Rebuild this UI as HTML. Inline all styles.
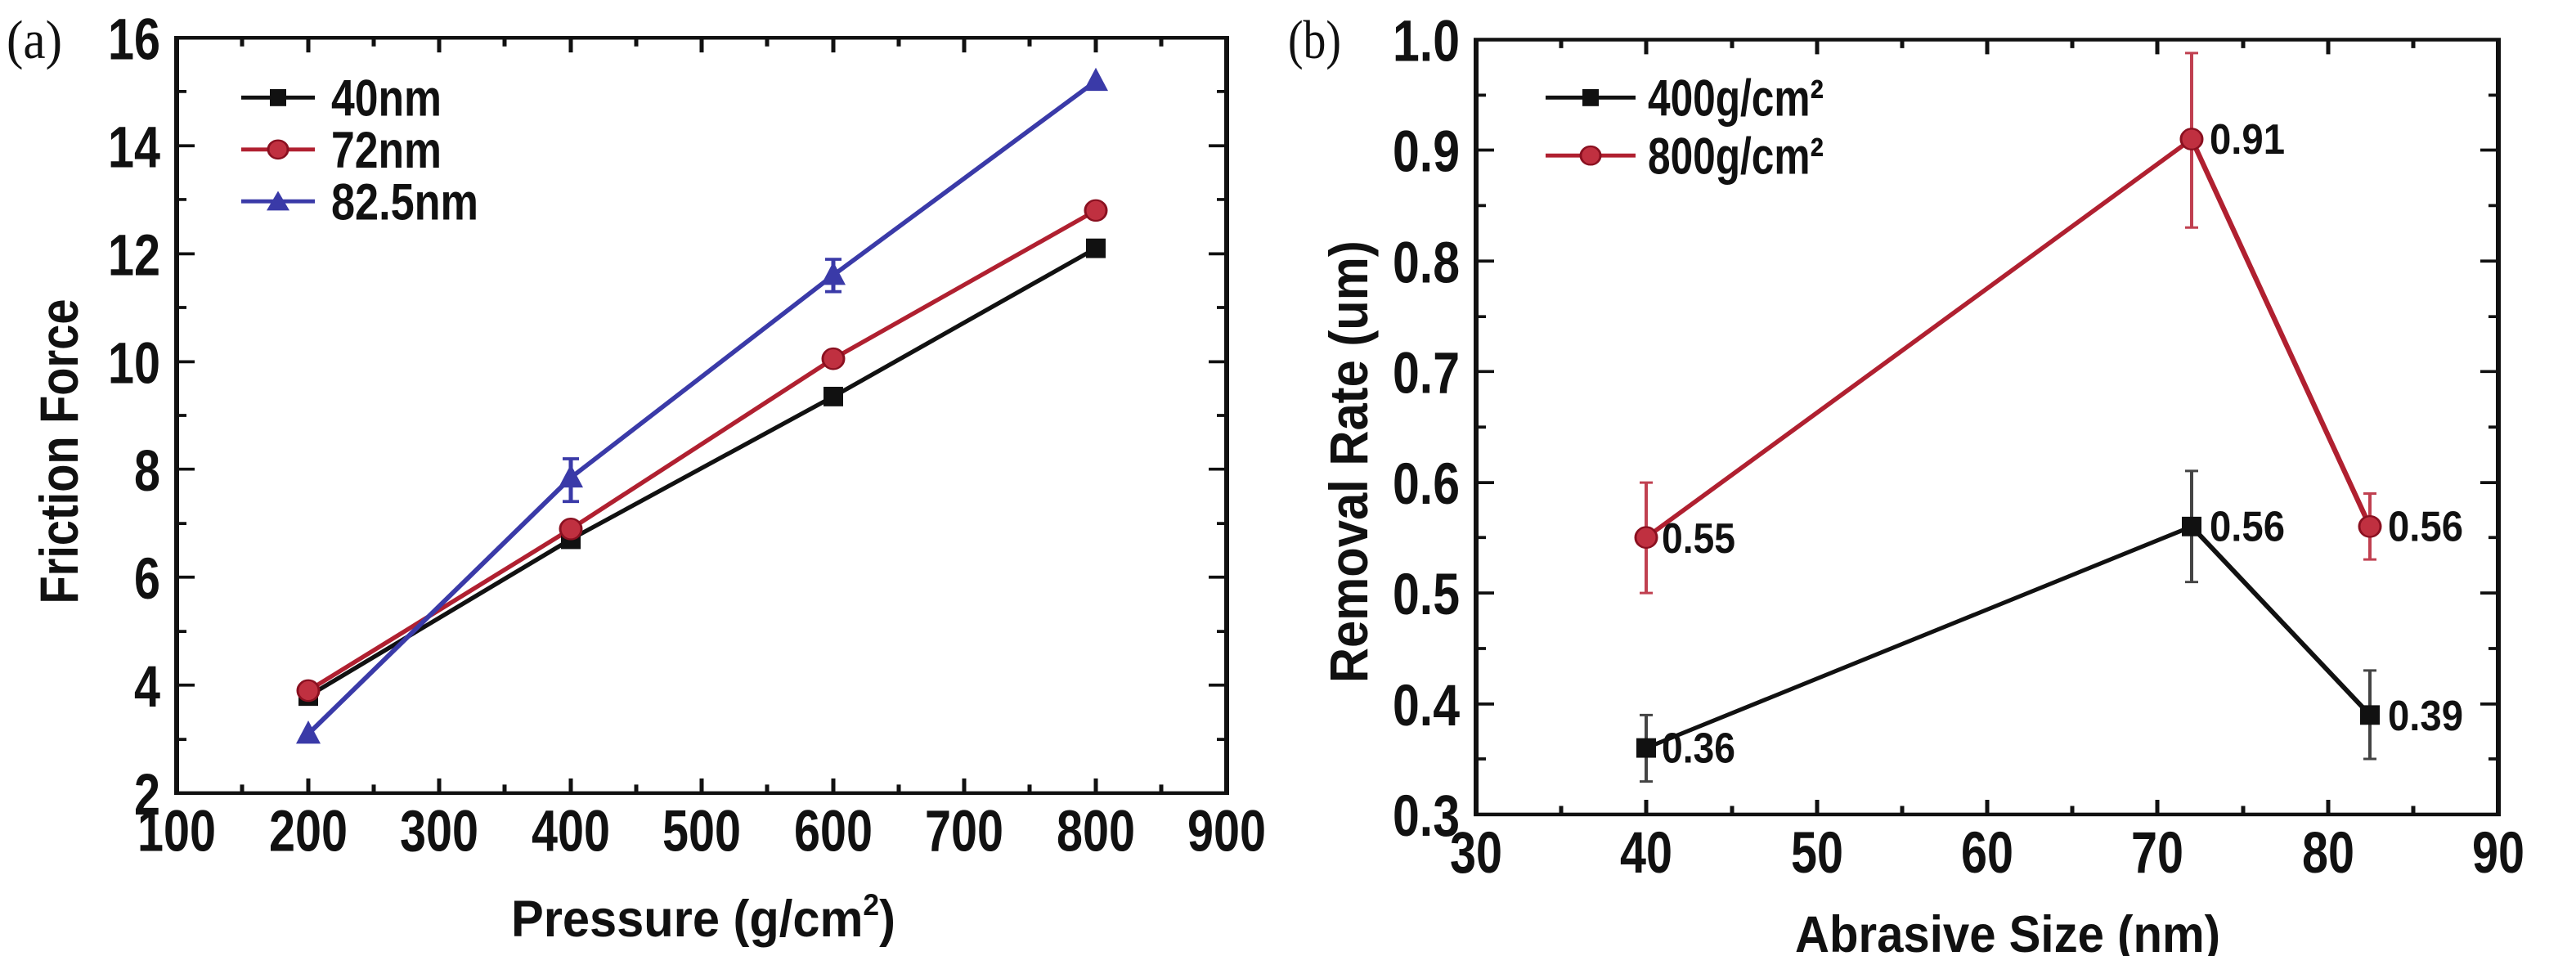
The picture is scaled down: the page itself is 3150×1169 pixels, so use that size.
<!DOCTYPE html>
<html><head><meta charset="utf-8"><style>
html,body{margin:0;padding:0;background:#fff;}
svg{display:block;}
text{font-family:"Liberation Sans",Arial,sans-serif;font-weight:bold;fill:#111;}
</style></head><body>
<svg width="3150" height="1169" viewBox="0 0 3150 1567" preserveAspectRatio="none" xmlns="http://www.w3.org/2000/svg">
<rect width="3150" height="1567" fill="#fff"/>
<text x="8" y="95" style="font-family:'Liberation Serif',serif;font-weight:normal" font-size="90" textLength="68" lengthAdjust="spacingAndGlyphs">(a)</text>
<rect x="216" y="62" width="1284" height="1238" fill="none" stroke="#111" stroke-width="6"/>
<g stroke="#111" stroke-width="5" fill="none">
<path d="M216 1300v-24M377 1300v-24M537 1300v-24M698 1300v-24M858 1300v-24M1019 1300v-24M1179 1300v-24M1340 1300v-24M1500 1300v-24
M296 1300v-14M457 1300v-14M617 1300v-14M778 1300v-14M938 1300v-14M1099 1300v-14M1259 1300v-14M1420 1300v-14
M377 62v24M537 62v24M698 62v24M858 62v24M1019 62v24M1179 62v24M1340 62v24
M296 62v14M457 62v14M617 62v14M778 62v14M938 62v14M1099 62v14M1259 62v14M1420 62v14
M216 1123h22M216 946h22M216 769h22M216 593h22M216 416h22M216 239h22
M216 1212h12M216 1035h12M216 858h12M216 681h12M216 504h12M216 327h12M216 150h12
M1500 1123h-22M1500 946h-22M1500 769h-22M1500 593h-22M1500 416h-22M1500 239h-22
M1500 1212h-12M1500 1035h-12M1500 858h-12M1500 681h-12M1500 504h-12M1500 327h-12M1500 150h-12"/>
</g>
<g font-size="96" text-anchor="middle">
<text x="216" y="1395" textLength="96" lengthAdjust="spacingAndGlyphs">100</text>
<text x="377" y="1395" textLength="96" lengthAdjust="spacingAndGlyphs">200</text>
<text x="537" y="1395" textLength="96" lengthAdjust="spacingAndGlyphs">300</text>
<text x="698" y="1395" textLength="96" lengthAdjust="spacingAndGlyphs">400</text>
<text x="858" y="1395" textLength="96" lengthAdjust="spacingAndGlyphs">500</text>
<text x="1019" y="1395" textLength="96" lengthAdjust="spacingAndGlyphs">600</text>
<text x="1179" y="1395" textLength="96" lengthAdjust="spacingAndGlyphs">700</text>
<text x="1340" y="1395" textLength="96" lengthAdjust="spacingAndGlyphs">800</text>
<text x="1500" y="1395" textLength="96" lengthAdjust="spacingAndGlyphs">900</text>
</g>
<g font-size="96" text-anchor="end">
<text x="196" y="1335" textLength="32" lengthAdjust="spacingAndGlyphs">2</text>
<text x="196" y="1158" textLength="32" lengthAdjust="spacingAndGlyphs">4</text>
<text x="196" y="981" textLength="32" lengthAdjust="spacingAndGlyphs">6</text>
<text x="196" y="804" textLength="32" lengthAdjust="spacingAndGlyphs">8</text>
<text x="196" y="628" textLength="64" lengthAdjust="spacingAndGlyphs">10</text>
<text x="196" y="451" textLength="64" lengthAdjust="spacingAndGlyphs">12</text>
<text x="196" y="274" textLength="64" lengthAdjust="spacingAndGlyphs">14</text>
<text x="196" y="97" textLength="64" lengthAdjust="spacingAndGlyphs">16</text>
</g>
<text transform="translate(95,740) rotate(-90)" font-size="66" text-anchor="middle" textLength="500" lengthAdjust="spacingAndGlyphs">Friction Force</text>
<text x="860" y="1535" font-size="84" text-anchor="middle" textLength="470" lengthAdjust="spacingAndGlyphs">Pressure (g/cm<tspan font-size="50" dy="-35">2</tspan><tspan dy="35">)</tspan></text>
<g fill="none" stroke-width="6.5">
<polyline stroke="#111" points="377,1141 698,884 1019,650 1340,407"/>
<polyline stroke="#b02030" points="377,1132 698,867 1019,588 1340,345"/>
<polyline stroke="#3a3aa8" points="377,1203 698,783 1019,451 1340,133"/>
<path stroke="#3a3aa8" stroke-width="5" d="M698 822V752M688 752h20M688 822h20M1019 478V425M1009 425h20M1009 478h20"/>
</g>
<g fill="#111"><rect x="365" y="1125" width="24" height="32"/><rect x="686" y="868" width="24" height="32"/><rect x="1007" y="634" width="24" height="32"/><rect x="1328" y="391" width="24" height="32"/></g>
<g fill="#c03040" stroke="#8a1020" stroke-width="3"><ellipse cx="377" cy="1132" rx="13" ry="17"/><ellipse cx="698" cy="867" rx="13" ry="17"/><ellipse cx="1019" cy="588" rx="13" ry="17"/><ellipse cx="1340" cy="345" rx="13" ry="17"/></g>
<g fill="#3a3aa8"><path d="M377 1181l-15 38h30z"/><path d="M698 761l-15 38h30z"/><path d="M1019 429l-15 38h30z"/><path d="M1340 111l-15 38h30z"/></g>
<g stroke-width="6.5">
<path stroke="#111" d="M295 160h90"/><path stroke="#b02030" d="M295 245h90"/><path stroke="#3a3aa8" d="M295 330h90"/>
</g>
<rect x="330" y="146" width="20" height="28" fill="#111"/>
<ellipse cx="340" cy="245" rx="12" ry="15" fill="#c03040" stroke="#8a1020" stroke-width="3"/>
<path d="M340 313l-14 32h28z" fill="#3a3aa8"/>
<g font-size="84">
<text x="405" y="190" textLength="135" lengthAdjust="spacingAndGlyphs">40nm</text>
<text x="405" y="275" textLength="135" lengthAdjust="spacingAndGlyphs">72nm</text>
<text x="405" y="360" textLength="180" lengthAdjust="spacingAndGlyphs">82.5nm</text>
</g>

<text x="1575" y="95" style="font-family:'Liberation Serif',serif;font-weight:normal" font-size="90" textLength="65" lengthAdjust="spacingAndGlyphs">(b)</text>
<rect x="1805" y="65" width="1250" height="1270" fill="none" stroke="#111" stroke-width="6"/>
<g stroke="#111" stroke-width="5" fill="none">
<path d="M2013 1335v-24M2222 1335v-24M2430 1335v-24M2638 1335v-24M2847 1335v-24
M1909 1335v-14M2118 1335v-14M2326 1335v-14M2534 1335v-14M2743 1335v-14M2951 1335v-14
M2013 65v24M2222 65v24M2430 65v24M2638 65v24M2847 65v24
M1909 65v14M2118 65v14M2326 65v14M2534 65v14M2743 65v14M2951 65v14
M1805 1154h22M1805 972h22M1805 791h22M1805 609h22M1805 428h22M1805 246h22
M1805 1244h12M1805 1063h12M1805 881h12M1805 700h12M1805 519h12M1805 337h12M1805 156h12
M3055 1154h-22M3055 972h-22M3055 791h-22M3055 609h-22M3055 428h-22M3055 246h-22
M3055 1244h-12M3055 1063h-12M3055 881h-12M3055 700h-12M3055 519h-12M3055 337h-12M3055 156h-12"/>
</g>
<g font-size="96" text-anchor="middle">
<text x="1805" y="1430" textLength="64" lengthAdjust="spacingAndGlyphs">30</text>
<text x="2013" y="1430" textLength="64" lengthAdjust="spacingAndGlyphs">40</text>
<text x="2222" y="1430" textLength="64" lengthAdjust="spacingAndGlyphs">50</text>
<text x="2430" y="1430" textLength="64" lengthAdjust="spacingAndGlyphs">60</text>
<text x="2638" y="1430" textLength="64" lengthAdjust="spacingAndGlyphs">70</text>
<text x="2847" y="1430" textLength="64" lengthAdjust="spacingAndGlyphs">80</text>
<text x="3055" y="1430" textLength="64" lengthAdjust="spacingAndGlyphs">90</text>
</g>
<g font-size="96" text-anchor="end">
<text x="1785" y="1370" textLength="82" lengthAdjust="spacingAndGlyphs">0.3</text>
<text x="1785" y="1189" textLength="82" lengthAdjust="spacingAndGlyphs">0.4</text>
<text x="1785" y="1007" textLength="82" lengthAdjust="spacingAndGlyphs">0.5</text>
<text x="1785" y="826" textLength="82" lengthAdjust="spacingAndGlyphs">0.6</text>
<text x="1785" y="644" textLength="82" lengthAdjust="spacingAndGlyphs">0.7</text>
<text x="1785" y="463" textLength="82" lengthAdjust="spacingAndGlyphs">0.8</text>
<text x="1785" y="281" textLength="82" lengthAdjust="spacingAndGlyphs">0.9</text>
<text x="1785" y="100" textLength="82" lengthAdjust="spacingAndGlyphs">1.0</text>
</g>
<text transform="translate(1672,757) rotate(-90)" font-size="66" text-anchor="middle" textLength="725" lengthAdjust="spacingAndGlyphs">Removal Rate (um)</text>
<text x="2455" y="1560" font-size="84" text-anchor="middle" textLength="520" lengthAdjust="spacingAndGlyphs">Abrasive Size (nm)</text>
<g fill="none" stroke-width="6.5">
<polyline stroke="#111" points="2013,1226 2680,863 2898,1172"/>
<polyline stroke="#b02030" points="2013,881 2680,228 2898,863"/>
<path stroke="#444" stroke-width="4" d="M2013 1281V1172M2005 1281h16M2005 1172h16M2680 954V772M2672 954h16M2672 772h16M2898 1244V1099M2890 1244h16M2890 1099h16"/>
<path stroke="#c04050" stroke-width="4" d="M2013 972V791M2005 972h16M2005 791h16M2680 373V87M2672 373h16M2672 87h16M2898 917V809M2890 917h16M2890 809h16"/>
</g>
<g fill="#111"><rect x="2001" y="1210" width="24" height="32"/><rect x="2668" y="847" width="24" height="32"/><rect x="2886" y="1156" width="24" height="32"/></g>
<g fill="#c03040" stroke="#8a1020" stroke-width="3"><ellipse cx="2013" cy="881" rx="13" ry="17"/><ellipse cx="2680" cy="228" rx="13" ry="17"/><ellipse cx="2898" cy="863" rx="13" ry="17"/></g>
<g font-size="70">
<text x="2032" y="1250" textLength="90" lengthAdjust="spacingAndGlyphs">0.36</text>
<text x="2032" y="906" textLength="90" lengthAdjust="spacingAndGlyphs">0.55</text>
<text x="2702" y="252" textLength="92" lengthAdjust="spacingAndGlyphs">0.91</text>
<text x="2702" y="887" textLength="92" lengthAdjust="spacingAndGlyphs">0.56</text>
<text x="2920" y="887" textLength="92" lengthAdjust="spacingAndGlyphs">0.56</text>
<text x="2920" y="1197" textLength="92" lengthAdjust="spacingAndGlyphs">0.39</text>
</g>
<path stroke="#111" stroke-width="6.5" d="M1890 160h110"/>
<path stroke="#b02030" stroke-width="6.5" d="M1890 255h110"/>
<rect x="1935" y="146" width="20" height="28" fill="#111"/>
<ellipse cx="1945" cy="255" rx="12" ry="15" fill="#c03040" stroke="#8a1020" stroke-width="3"/>
<g font-size="84">
<text x="2015" y="190" textLength="215" lengthAdjust="spacingAndGlyphs">400g/cm²</text>
<text x="2015" y="285" textLength="215" lengthAdjust="spacingAndGlyphs">800g/cm²</text>
</g>
</svg>
</body></html>
